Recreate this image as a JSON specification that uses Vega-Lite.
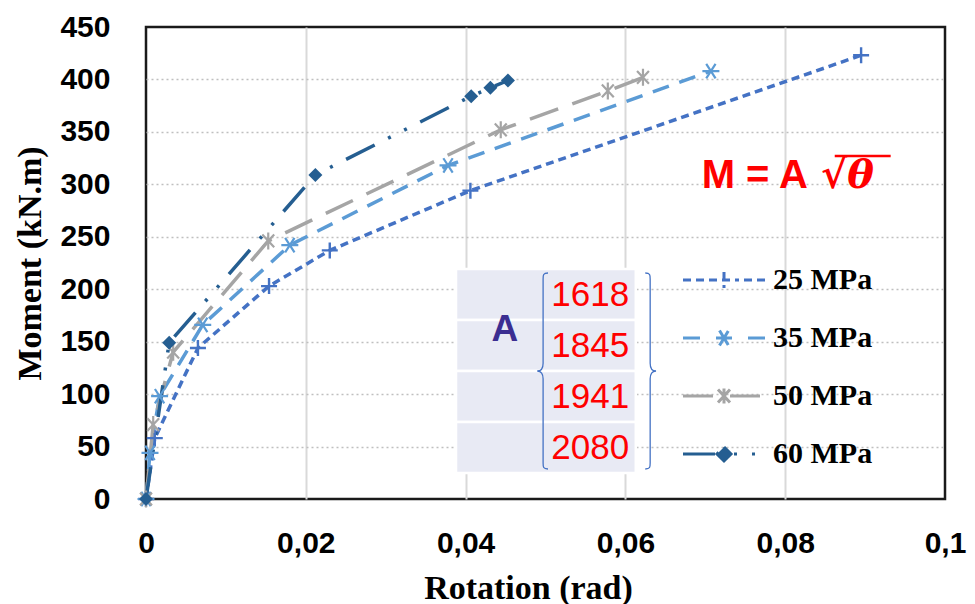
{
  "$schema": "https://vega.github.io/schema/vega-lite/v6.json",
  "width": 799,
  "height": 472,
  "autosize": {"type": "none"},
  "padding": {"left": 146, "top": 27, "right": 30, "bottom": 105},
  "background": "white",
  "config": {
    "view": {"stroke": "#1a1a1a", "strokeWidth": 2.5},
    "font": "Liberation Sans"
  },
  "datasets": {
    "curves": [
      {"mpa": "25 MPa", "rot": 0, "M": 0},
      {"mpa": "25 MPa", "rot": 0.0011, "M": 58},
      {"mpa": "25 MPa", "rot": 0.0065, "M": 144},
      {"mpa": "25 MPa", "rot": 0.0154, "M": 203},
      {"mpa": "25 MPa", "rot": 0.023, "M": 237},
      {"mpa": "25 MPa", "rot": 0.0406, "M": 294},
      {"mpa": "25 MPa", "rot": 0.0895, "M": 423},
      {"mpa": "35 MPa", "rot": 0, "M": 0},
      {"mpa": "35 MPa", "rot": 0.0005, "M": 44},
      {"mpa": "35 MPa", "rot": 0.0017, "M": 98},
      {"mpa": "35 MPa", "rot": 0.0071, "M": 166},
      {"mpa": "35 MPa", "rot": 0.018, "M": 242},
      {"mpa": "35 MPa", "rot": 0.0378, "M": 318},
      {"mpa": "35 MPa", "rot": 0.0707, "M": 408},
      {"mpa": "50 MPa", "rot": 0, "M": 0},
      {"mpa": "50 MPa", "rot": 0.0009, "M": 71},
      {"mpa": "50 MPa", "rot": 0.0034, "M": 140},
      {"mpa": "50 MPa", "rot": 0.0153, "M": 246},
      {"mpa": "50 MPa", "rot": 0.0444, "M": 352},
      {"mpa": "50 MPa", "rot": 0.0578, "M": 389},
      {"mpa": "50 MPa", "rot": 0.0622, "M": 402},
      {"mpa": "60 MPa", "rot": 0, "M": 0},
      {"mpa": "60 MPa", "rot": 0.0029, "M": 149},
      {"mpa": "60 MPa", "rot": 0.0212, "M": 309},
      {"mpa": "60 MPa", "rot": 0.0407, "M": 384},
      {"mpa": "60 MPa", "rot": 0.0431, "M": 392},
      {"mpa": "60 MPa", "rot": 0.0453, "M": 399}
    ],
    "A": [
      {"mpa": "25 MPa", "A": 1618},
      {"mpa": "35 MPa", "A": 1845},
      {"mpa": "50 MPa", "A": 1941},
      {"mpa": "60 MPa", "A": 2080}
    ]
  },
  "layer": [
    {
      "layer": [
        {
          "data": {"name": "curves"},
          "encoding": {
            "x": {
              "field": "rot", "type": "quantitative",
              "scale": {"domain": [0, 0.1], "nice": false, "zero": true},
              "axis": {
                "values": [0, 0.02, 0.04, 0.06, 0.08, 0.1],
                "labelExpr": "replace(toString(datum.value), '.', ',')",
                "labelFlush": false, "labelOverlap": false,
                "grid": true, "gridColor": "#D9D9D9", "gridWidth": 2,
                "gridOpacity": {"condition": {"test": "datum.value == 0 || datum.value >= 0.1", "value": 0}, "value": 1},
                "ticks": false, "tickSize": 0, "domain": false,
                "labelPadding": 29,
                "labelFont": "Liberation Sans", "labelFontWeight": "bold", "labelFontSize": 30, "labelColor": "#000",
                "title": "Rotation (rad)",
                "titleFont": "Liberation Serif", "titleFontSize": 34, "titleFontWeight": "bold", "titleColor": "#000",
                "titlePadding": 13, "titleX": 382
              }
            },
            "y": {
              "field": "M", "type": "quantitative",
              "scale": {"domain": [0, 450], "nice": false},
              "axis": {
                "values": [0, 50, 100, 150, 200, 250, 300, 350, 400, 450],
                "grid": true, "gridColor": "#BFBFBF", "gridWidth": 1.5, "gridDash": [2, 3],
                "gridOpacity": {"condition": {"test": "datum.value == 0 || datum.value >= 450", "value": 0}, "value": 1},
                "ticks": false, "tickSize": 0, "domain": false,
                "labelPadding": 36,
                "labelFont": "Liberation Sans", "labelFontWeight": "bold", "labelFontSize": 30, "labelColor": "#000",
                "title": "Moment (kN.m)",
                "titleFont": "Liberation Serif", "titleFontSize": 34, "titleFontWeight": "bold", "titleColor": "#000",
                "titlePadding": 12
              }
            },
            "color": {
              "field": "mpa", "type": "nominal",
              "scale": {"domain": ["25 MPa", "35 MPa", "50 MPa", "60 MPa"], "range": ["#4472C4", "#5B9BD5", "#A5A5A5", "#255E91"]},
              "legend": {
                "title": null,
                "orient": "none", "legendX": 563, "legendY": 238,
                "direction": "vertical",
                "symbolSize": 400, "symbolStrokeWidth": 3,
                "labelFont": "Liberation Serif", "labelFontSize": 30, "labelFontWeight": "bold", "labelColor": "#000",
                "labelOffset": 34, "rowPadding": 28, "padding": 0,
                "encode": {
                  "symbols": {
                    "update": {
                      "shape": {"signal": "datum.value === '25 MPa' ? 'M-4.1,0L-3.3,0M-2.8,0L-2,0M-1.5,0L1.5,0M2,0L2.8,0M3.3,0L4.1,0M0,-0.8L0,0.8' : datum.value === '35 MPa' ? 'M-4.1,0L-2.4,0M2.4,0L4.1,0M-0.8,0L0.8,0M-0.45,-0.75L0.45,0.75M-0.45,0.75L0.45,-0.75' : datum.value === '50 MPa' ? 'M-4.1,0L-0.6,0M0.6,0L4.1,0M-0.6,-0.65L0.6,0.65M-0.6,0.65L0.6,-0.65M0,-0.75L0,0.75' : 'M-4.1,0L-0.7,0M0,-0.7L0.7,0L0,0.7L-0.7,0ZM1,0L1.3,0M2.8,0L3.1,0'"},
                      "fill": {"signal": "datum.value === '60 MPa' ? '#255E91' : 'transparent'"},
                      "stroke": {"scale": "color", "field": "value"},
                      "strokeDash": {"value": []},
                      "opacity": {"value": 1}
                    }
                  }
                }
              }
            }
          },
          "layer": [
            {
              "mark": {"type": "line", "strokeWidth": 3.5, "strokeCap": "butt"},
              "encoding": {
                "strokeDash": {
                  "field": "mpa", "type": "nominal",
                  "scale": {"domain": ["25 MPa", "35 MPa", "50 MPa", "60 MPa"], "range": [[8, 5], [17, 11], [30, 15], [32, 15, 3, 15, 3, 15]]},
                  "legend": null
                }
              }
            },
            {
              "transform": [{"filter": "datum.mpa === '25 MPa'"}],
              "mark": {"type": "point", "shape": "M-1,0L1,0M0,-1L0,1", "filled": false, "size": 256, "strokeWidth": 2.4, "opacity": 1}
            },
            {
              "transform": [{"filter": "datum.mpa === '35 MPa'"}],
              "mark": {"type": "point", "shape": "M-1,0L1,0M-0.55,-0.85L0.55,0.85M-0.55,0.85L0.55,-0.85", "filled": false, "size": 289, "strokeWidth": 2.2, "opacity": 1}
            },
            {
              "transform": [{"filter": "datum.mpa === '50 MPa'"}],
              "mark": {"type": "point", "shape": "M-0.7,-0.75L0.7,0.75M-0.7,0.75L0.7,-0.75M0,-1L0,1", "filled": false, "size": 289, "strokeWidth": 2.2, "opacity": 1}
            },
            {
              "transform": [{"filter": "datum.mpa === '60 MPa'"}],
              "mark": {"type": "point", "shape": "M0,-1L1,0L0,1L-1,0Z", "filled": true, "size": 196, "opacity": 1}
            }
          ]
        },
        {
          "data": {"values": [{}]},
          "mark": {"type": "text", "text": "M = A", "font": "Liberation Sans", "fontSize": 40, "fontWeight": "bold", "color": "#FF0000", "align": "center", "baseline": "middle"},
          "encoding": {"x": {"datum": 0.0762, "type": "quantitative"}, "y": {"datum": 308, "type": "quantitative"}}
        },
        {
          "data": {"values": [{}]},
          "mark": {"type": "text", "text": "√θ", "font": "DejaVu Serif", "fontSize": 40, "fontWeight": "bold", "fontStyle": "italic", "color": "#FF0000", "align": "center", "baseline": "middle"},
          "encoding": {"x": {"datum": 0.0878, "type": "quantitative"}, "y": {"datum": 308, "type": "quantitative"}}
        },
        {
          "data": {"values": [{}]},
          "mark": {"type": "rule", "color": "#FF0000", "strokeWidth": 2.5},
          "encoding": {"x": {"datum": 0.0862, "type": "quantitative"}, "x2": {"datum": 0.0932}, "y": {"datum": 327, "type": "quantitative"}}
        }
      ]
    },
    {
      "data": {"name": "A"},
      "layer": [
        {
          "mark": {"type": "rect", "fill": "#E8EAF4", "stroke": "white", "strokeWidth": 2.5},
          "encoding": {
            "x": {"datum": 0.0388, "type": "quantitative"},
            "x2": {"datum": 0.0613},
            "y": {"field": "mpa", "type": "nominal", "scale": {"type": "band", "domain": ["25 MPa", "35 MPa", "50 MPa", "60 MPa"], "range": [242, 446], "paddingInner": 0, "paddingOuter": 0}, "axis": null}
          }
        },
        {
          "mark": {"type": "text", "font": "Liberation Sans", "fontSize": 35, "color": "#FF0000", "align": "center", "baseline": "middle"},
          "encoding": {
            "x": {"datum": 0.0556, "type": "quantitative"},
            "y": {"field": "mpa", "type": "nominal", "axis": null},
            "text": {"field": "A", "type": "nominal"}
          }
        },
        {
          "data": {"values": [{}]},
          "mark": {"type": "text", "text": "A", "font": "Liberation Sans", "fontSize": 37, "fontWeight": "bold", "color": "#3B2E91", "align": "center", "baseline": "middle"},
          "encoding": {
            "x": {"datum": 0.0449, "type": "quantitative"},
            "y": {"datum": "35 MPa", "type": "nominal", "bandPosition": 0.2, "axis": null}
          }
        },
        {
          "data": {"values": [{}]},
          "mark": {"type": "point", "shape": "M0.05,-1C0,-1 0,-0.98 0,-0.94L0,-0.08C0,-0.03 -0.02,0 -0.06,0C-0.02,0 0,0.03 0,0.08L0,0.94C0,0.98 0,1 0.05,1", "size": 38416, "filled": false, "stroke": "#4472C4", "strokeWidth": 1.3, "opacity": 1},
          "encoding": {
            "x": {"datum": 0.0497, "type": "quantitative"},
            "y": {"datum": "50 MPa", "type": "nominal", "bandPosition": 0, "axis": null}
          }
        },
        {
          "data": {"values": [{}]},
          "mark": {"type": "point", "shape": "M-0.05,-1C0,-1 0,-0.98 0,-0.94L0,-0.08C0,-0.03 0.02,0 0.06,0C0.02,0 0,0.03 0,0.08L0,0.94C0,0.98 0,1 -0.05,1", "size": 38416, "filled": false, "stroke": "#4472C4", "strokeWidth": 1.3, "opacity": 1},
          "encoding": {
            "x": {"datum": 0.0631, "type": "quantitative"},
            "y": {"datum": "50 MPa", "type": "nominal", "bandPosition": 0, "axis": null}
          }
        }
      ]
    }
  ],
  "resolve": {"scale": {"y": "independent"}}
}
